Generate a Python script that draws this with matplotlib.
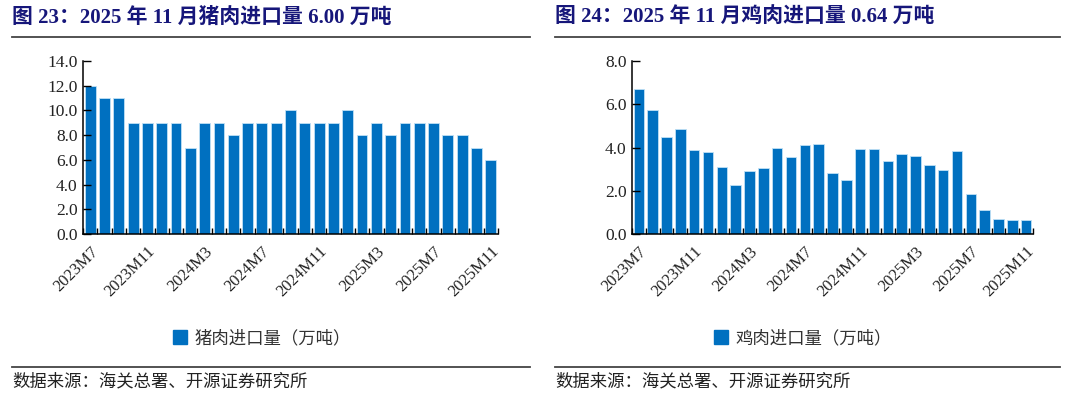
import matplotlib
matplotlib.use("Agg")
import matplotlib.pyplot as plt
from matplotlib.lines import Line2D
from matplotlib.patches import Patch
import numpy as np

months = ["2023M7", "2023M8", "2023M9", "2023M10", "2023M11", "2023M12",
          "2024M1", "2024M2", "2024M3", "2024M4", "2024M5", "2024M6",
          "2024M7", "2024M8", "2024M9", "2024M10", "2024M11", "2024M12",
          "2025M1", "2025M2", "2025M3", "2025M4", "2025M5", "2025M6",
          "2025M7", "2025M8", "2025M9", "2025M10", "2025M11"]
pork = [12, 11, 11, 9, 9, 9, 9, 7, 9, 9, 8, 9, 9, 9, 10, 9, 9, 9, 10, 8,
        9, 8, 9, 9, 9, 8, 8, 7, 6]
chicken = [6.71, 5.72, 4.48, 4.85, 3.88, 3.78, 3.09, 2.28, 2.91, 3.05,
           3.97, 3.58, 4.11, 4.17, 2.83, 2.52, 3.94, 3.92, 3.37, 3.68,
           3.63, 3.18, 2.95, 3.83, 1.86, 1.09, 0.69, 0.66, 0.64]

title_left = "图 23：2025 年 11 月猪肉进口量 6.00 万吨"
title_right = "图 24：2025 年 11 月鸡肉进口量 0.64 万吨"
legend_left = "猪肉进口量（万吨）"
legend_right = "鸡肉进口量（万吨）"
source = "数据来源：海关总署、开源证券研究所"

BAR = "#0070C0"
NAVY = "#16167A"
SERIF = ["Liberation Serif", "Noto Sans CJK SC"]
CJK = ["Noto Sans CJK SC", "DejaVu Sans"]

fig = plt.figure(figsize=(10.8, 3.96), dpi=100)
fig.patch.set_facecolor("white")


def panel(rect, values, ymax, ystep, title, leg, x0, x1, legx):
    ax = fig.add_axes(rect)
    x = np.arange(len(values))
    ax.bar(x, values, width=0.76, color=BAR, edgecolor="#BFE0F5", linewidth=0.6)
    ax.set_xlim(-0.5, len(values) - 0.5)
    ax.set_ylim(0, ymax)
    ax.set_yticks(np.arange(0, ymax + 0.001, ystep))
    ax.set_yticklabels([f"{v:.1f}" for v in np.arange(0, ymax + 0.001, ystep)],
                       family=SERIF, fontsize=12.5, color="#222222")
    ax.set_xticks(x[::4])
    ax.set_xticklabels([months[i] for i in x[::4]], rotation=45, ha="right",
                       rotation_mode="anchor", family=SERIF, fontsize=12,
                       color="#222222")
    ax.set_xticks(np.arange(-0.5, len(values), 1.0), minor=True)
    ax.tick_params(axis="x", which="major", length=0, pad=7)
    ax.tick_params(axis="x", which="minor", direction="in", length=4, width=1)
    ax.tick_params(axis="y", direction="in", length=6, width=1, pad=4)
    for s in ["top", "right"]:
        ax.spines[s].set_visible(False)
    for s in ["left", "bottom"]:
        ax.spines[s].set_color("black")
        ax.spines[s].set_linewidth(1.1)
    fx0, fx1 = x0 / 1080, x1 / 1080
    fig.text(fx0, 1 - 18 / 396, title, family=SERIF, fontsize=15,
             fontweight="bold", color=NAVY, va="center", ha="left")
    fig.add_artist(Line2D([fx0, fx1], [1 - 37 / 396] * 2, color="#444444", lw=1.3))
    fig.add_artist(Line2D([fx0, fx1], [1 - 367 / 396] * 2, color="#444444", lw=1.3))
    fig.text(fx0, 1 - 381 / 396, source, family=CJK, fontsize=12.5,
             color="#222222", va="center", ha="left")
    fig.legend(handles=[Patch(facecolor=BAR, edgecolor=BAR)], labels=[leg],
               loc="center", bbox_to_anchor=(legx, 1 - 338 / 396), frameon=False,
               prop={"family": CJK, "size": 12.5}, handlelength=0.8,
               handleheight=0.8, handletextpad=0.4, labelcolor="#333333")
    return ax


panel([83 / 1080, 1 - 234 / 396, 415 / 1080, 173 / 396], pork, 14, 2,
      title_left, legend_left, 12, 530, 262 / 1080)
panel([632 / 1080, 1 - 234 / 396, 401 / 1080, 173 / 396], chicken, 8, 2,
      title_right, legend_right, 555, 1060, 803 / 1080)

fig.savefig("out.png", dpi=100, facecolor="white")
